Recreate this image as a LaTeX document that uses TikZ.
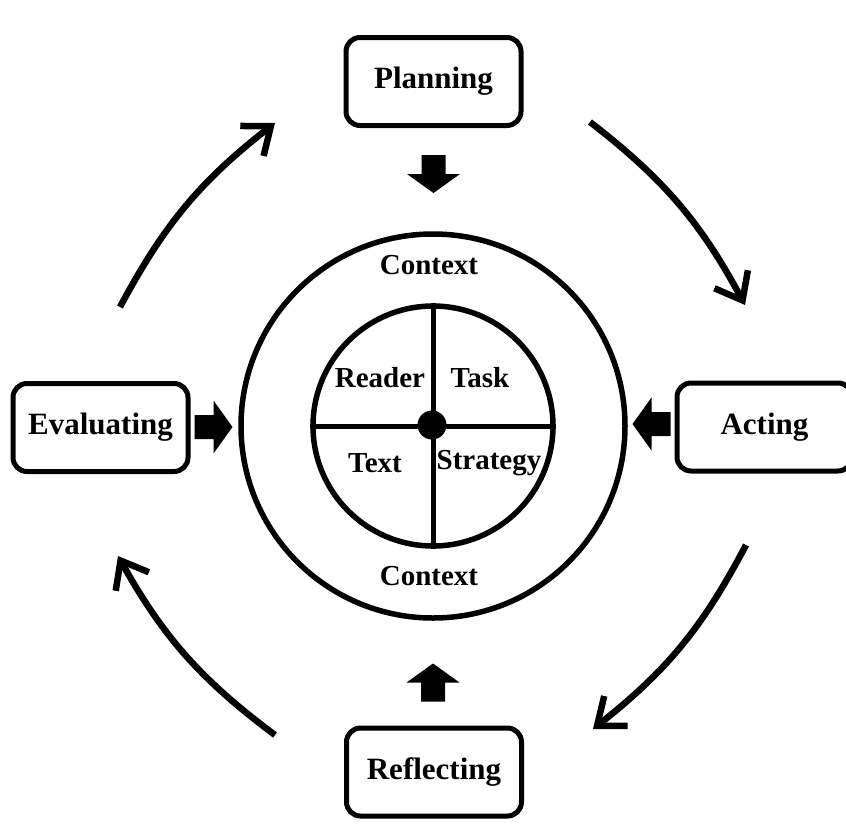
\documentclass[tikz,border=0pt]{standalone}
\usepackage{fontspec}
\setmainfont{Liberation Serif}
\usetikzlibrary{arrows.meta}
\begin{document}
\begin{tikzpicture}[x=1pt,y=-1pt,
  stagebox/.style={draw, line width=5pt, rounded corners=14pt, minimum width=175pt, minimum height=88pt, inner sep=0pt, font=\fontsize{31}{37}\selectfont\bfseries},
  lbl/.style={inner sep=0pt, font=\fontsize{29}{35}\selectfont\bfseries},
  ring/.style={draw, circle, line width=5.5pt, inner sep=0pt},
  cyc/.style={line width=6.5pt, -{Straight Barb[length=24pt,width=38pt,line width=6.5pt]}, bend left=12},
  blk/.pic={\fill (-19,-12) -- (0,-12) -- (0,-26.5) -- (19,0) -- (0,26.5) -- (0,12) -- (-19,12) -- cycle;}
]
\useasboundingbox (0,0) rectangle (846,823);
\clip (0,0) rectangle (846,823);
\fill[white] (0,0) rectangle (846,823);

% boxes
\node[stagebox] (plan) at (433.5,81.5) {Planning};
\node[stagebox] (act) at (764.5,427) {Acting};
\node[stagebox] (refl) at (434,772) {Reflecting};
\node[stagebox] (eval) at (100.5,427.5) {Evaluating};

% circles
\node[ring, minimum size=384pt] (outer) at (433,426) {};
\node[ring, minimum size=240pt] (inner) at (433,426) {};
\draw[line width=5pt] (inner.north) -- (inner.south);
\draw[line width=5pt] (inner.west) -- (inner.east);
\node[circle, fill, inner sep=0pt, minimum size=29pt] (dot) at (432,425) {};

% labels
\node[lbl] (ctxt) at (429,265) {Context};
\node[lbl] (ctxb) at (429,576) {Context};
\node[lbl] (reader) at (380,378) {Reader};
\node[lbl] (task) at (480,378) {Task};
\node[lbl] (text) at (375,463) {Text};
\node[lbl] (strat) at (489,463) {Strategy};

% block arrows
\pic[rotate=-90] at (433.5,174) {blk};
\pic[rotate=90] at (433,682.5) {blk};
\pic at (213.5,427) {blk};
\pic[rotate=180] at (651.5,424) {blk};

% cycle arrows
\coordinate (a1) at (120,307); \coordinate (b1) at (275,123);
\coordinate (a2) at (590,122); \coordinate (b2) at (745,305);
\coordinate (a3) at (746,545); \coordinate (b3) at (593,729);
\coordinate (a4) at (275,735); \coordinate (b4) at (118,556);
\draw[cyc] (a1) to (b1);
\draw[cyc] (a2) to (b2);
\draw[cyc] (a3) to (b3);
\draw[cyc] (a4) to (b4);
\end{tikzpicture}
\end{document}
